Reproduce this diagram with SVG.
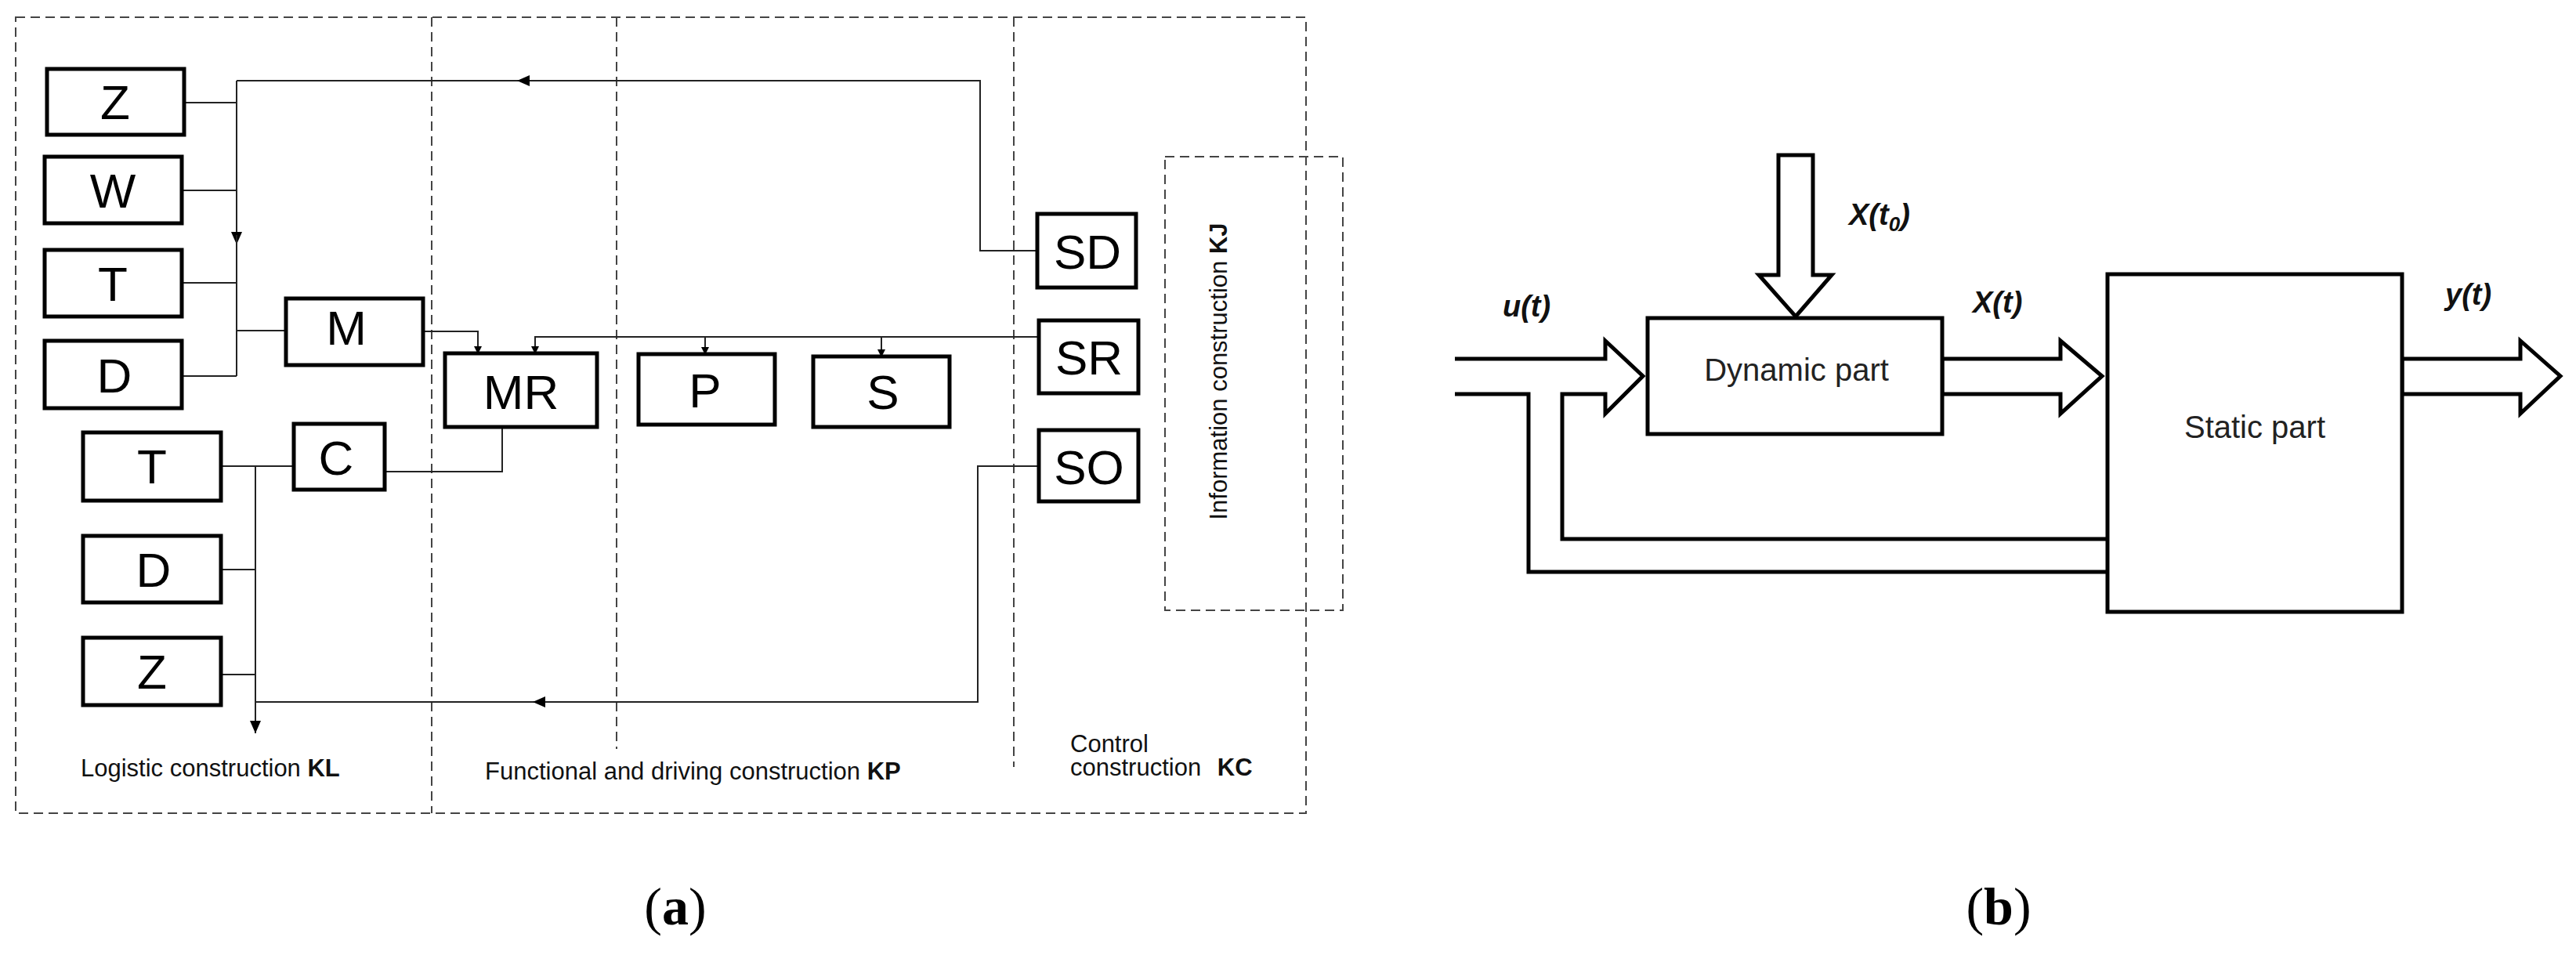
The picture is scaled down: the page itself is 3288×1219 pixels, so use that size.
<svg xmlns="http://www.w3.org/2000/svg" width="3288" height="1219" viewBox="0 0 3288 1219">
<style>
.dash{fill:none;stroke:#444;stroke-width:2;stroke-dasharray:12 7}
.box rect{fill:#fff;stroke:#000;stroke-width:5}
.box text{font-family:"Liberation Sans",Arial,sans-serif;font-size:62px;text-anchor:middle;fill:#000}
.ln{fill:none;stroke:#222;stroke-width:2}
.lbl{font-family:"Liberation Sans",Arial,sans-serif;font-size:31px;fill:#111}
.b2 rect{fill:#fff;stroke:#000;stroke-width:5}
.b2 text{font-family:"Liberation Sans",Arial,sans-serif;font-size:40px;text-anchor:middle;fill:#222}
.fat{fill:none;stroke:#000;stroke-width:5;stroke-linejoin:miter}
.var{font-family:"Liberation Sans",Arial,sans-serif;font-size:38px;font-weight:bold;font-style:italic;fill:#111}
.cap{font-family:"Liberation Serif","Times New Roman",serif;font-size:68px;text-anchor:middle;fill:#000}
</style>
<defs>
<marker id="ah" markerWidth="10" markerHeight="10" refX="9" refY="5" orient="auto" markerUnits="userSpaceOnUse" viewBox="0 0 10 10"><path d="M0,0 L10,5 L0,10 z" fill="#000"/></marker>
<marker id="ahs" markerWidth="16" markerHeight="14" refX="16" refY="7" orient="auto" markerUnits="userSpaceOnUse" viewBox="0 0 16 14"><path d="M0,0 L16,7 L0,14 z" fill="#000"/></marker>
</defs>
<rect width="3288" height="1219" fill="#fff"/>
<!-- panel a frames -->
<g id="frames">
<rect class="dash" x="20" y="22" width="1647" height="1016"/>
<line class="dash" x1="551" y1="22" x2="551" y2="1038"/>
<line class="dash" x1="787" y1="22" x2="787" y2="956"/>
<line class="dash" x1="1294" y1="22" x2="1294" y2="979"/>
<rect class="dash" x="1487" y="200" width="227" height="579"/>
<text class="lbl" transform="translate(1566,474) rotate(-90)" text-anchor="middle" font-size="28">Information construction <tspan font-weight="bold">KJ</tspan></text>
<text class="lbl" x="103" y="991">Logistic construction <tspan font-weight="bold">KL</tspan></text>
<text class="lbl" x="619" y="995">Functional and driving construction <tspan font-weight="bold">KP</tspan></text>
<text class="lbl" x="1366" y="960">Control</text>
<text class="lbl" x="1366" y="990">construction <tspan font-weight="bold" dx="12">KC</tspan></text>
</g>
<g id="connectors">
<polyline class="ln" points="1324,320 1251,320 1251,103 302,103"/>
<line class="ln" x1="1251" y1="103" x2="660" y2="103" marker-end="url(#ahs)"/>
<line class="ln" x1="302" y1="103" x2="302" y2="312" marker-end="url(#ahs)"/>
<line class="ln" x1="302" y1="300" x2="302" y2="480"/>
<line class="ln" x1="235" y1="131" x2="302" y2="131"/>
<line class="ln" x1="232" y1="243" x2="302" y2="243"/>
<line class="ln" x1="232" y1="361" x2="302" y2="361"/>
<line class="ln" x1="232" y1="480" x2="302" y2="480"/>
<line class="ln" x1="302" y1="422" x2="365" y2="422"/>
<polyline class="ln" points="540,423 610,423 610,451" marker-end="url(#ah)"/>
<polyline class="ln" points="1326,430 683,430 683,451" marker-end="url(#ah)"/>
<line class="ln" x1="900" y1="430" x2="900" y2="452" marker-end="url(#ah)"/>
<line class="ln" x1="1125" y1="430" x2="1125" y2="455" marker-end="url(#ah)"/>
<polyline class="ln" points="491,602 641,602 641,545"/>
<line class="ln" x1="282" y1="595" x2="375" y2="595"/>
<line class="ln" x1="326" y1="595" x2="326" y2="936" marker-end="url(#ahs)"/>
<line class="ln" x1="282" y1="727" x2="326" y2="727"/>
<line class="ln" x1="282" y1="861" x2="326" y2="861"/>
<polyline class="ln" points="1326,595 1248,595 1248,896 326,896"/>
<line class="ln" x1="1248" y1="896" x2="680" y2="896" marker-end="url(#ahs)"/>
</g>
<g id="Z1" class="box"><rect x="60" y="88" width="175" height="84"/><text x="147" y="152">Z</text></g>
<g id="W" class="box"><rect x="57" y="200" width="175" height="85"/><text x="144" y="265">W</text></g>
<g id="T1" class="box"><rect x="57" y="319" width="175" height="85"/><text x="144" y="384">T</text></g>
<g id="D1" class="box"><rect x="57" y="435" width="175" height="86"/><text x="146" y="501">D</text></g>
<g id="M" class="box"><rect x="365" y="381" width="175" height="85"/><text x="442" y="440">M</text></g>
<g id="T2" class="box"><rect x="106" y="552" width="176" height="87"/><text x="194" y="617">T</text></g>
<g id="C" class="box"><rect x="375" y="541" width="116" height="84"/><text x="429" y="606">C</text></g>
<g id="D2" class="box"><rect x="106" y="684" width="176" height="85"/><text x="196" y="749">D</text></g>
<g id="Z2" class="box"><rect x="106" y="814" width="176" height="86"/><text x="194" y="879">Z</text></g>
<g id="MR" class="box"><rect x="568" y="451" width="194" height="94"/><text x="665" y="522">MR</text></g>
<g id="P" class="box"><rect x="815" y="452" width="174" height="90"/><text x="900" y="520">P</text></g>
<g id="S" class="box"><rect x="1038" y="455" width="174" height="90"/><text x="1127" y="522">S</text></g>
<g id="SD" class="box"><rect x="1324" y="273" width="126" height="94"/><text x="1388" y="343">SD</text></g>
<g id="SR" class="box"><rect x="1326" y="409" width="127" height="93"/><text x="1390" y="478">SR</text></g>
<g id="SO" class="box"><rect x="1326" y="549" width="127" height="91"/><text x="1390" y="618">SO</text></g>
<text class="cap" x="862" y="1180">(<tspan font-weight="bold">a</tspan>)</text>
<!-- panel b -->
<g id="arrows-b">
<polygon class="fat" points="2270,198 2314,198 2314,351 2338,351 2292,404 2245,351 2270,351"/>
<polyline class="fat" points="1857,458 2049,458 2049,435 2097,480 2049,528 2049,503 1994,503 1994,688 2690,688"/>
<polyline class="fat" points="1857,503 1951,503 1951,730 2690,730"/>
<polygon class="fat" points="2479,458 2630,458 2630,435 2683,480 2630,528 2630,503 2479,503"/>
<polygon class="fat" points="3066,458 3217,458 3217,435 3268,480 3217,528 3217,503 3066,503"/>
</g>
<g id="dynamic" class="b2"><rect x="2103" y="406" width="376" height="148"/><text x="2293" y="486">Dynamic part</text></g>
<g id="static" class="b2"><rect x="2690" y="350" width="376" height="431"/><text x="2878" y="559">Static part</text></g>
<text class="var" x="1918" y="404">u(t)</text>
<text class="var" x="2360" y="287">X(t<tspan font-size="26" dy="8">0</tspan><tspan dy="-8">)</tspan></text>
<text class="var" x="2518" y="399">X(t)</text>
<text class="var" x="3121" y="389">y(t)</text>
<text class="cap" x="2551" y="1180">(<tspan font-weight="bold">b</tspan>)</text>
</svg>
